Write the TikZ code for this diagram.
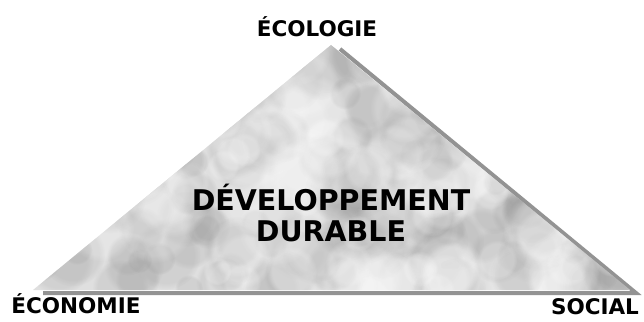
\documentclass[tikz,border=0pt]{standalone}
\usepackage{fontspec}
\setmainfont{DejaVu Sans}
\usetikzlibrary{fadings}

\begin{document}
\begin{tikzpicture}[x=1pt,y=-1pt]
\tikzset{etiquette/.style={font=\fontsize{21.5}{24}\selectfont\bfseries, anchor=base, inner sep=0pt}}
\tikzset{titre/.style={font=\fontsize{28.5}{32}\selectfont\bfseries, anchor=base, inner sep=0pt}}
\tikzset{ombre/.style={draw=gray!85, line width=4pt, line join=miter}}
\tikzset{tache/.style={path fading=circle with fuzzy edge 20 percent, fill opacity=0.2}}
\useasboundingbox (0,0) rectangle (644,321);
\coordinate (S) at (331,45);
\coordinate (G) at (33,290);
\coordinate (D) at (630,290);
\coordinate (OS) at (340,49);
\coordinate (OD) at (636,293);
\coordinate (OG) at (43,293);
% ombre
\draw[ombre] (OS) -- (OD) -- (OG);
% triangle
\fill[gray!25] (S) -- (D) -- (G) -- cycle;
\begin{scope}
\clip (S) -- (D) -- (G) -- cycle;
\pgfmathsetseed{17}
\foreach \i in {1,...,240} {
  \pgfmathsetmacro\px{35+rnd*595}
  \pgfmathsetmacro\py{45+rnd*245}
  \pgfmathsetmacro\pr{12+rnd*24}
  \fill[gray!80, tache] (\px,\py) circle (\pr pt);
}
\foreach \i in {1,...,140} {
  \pgfmathsetmacro\px{35+rnd*595}
  \pgfmathsetmacro\py{45+rnd*245}
  \pgfmathsetmacro\pr{14+rnd*26}
  \fill[white, tache] (\px,\py) circle (\pr pt);
}
\end{scope}
\node[etiquette] (ecologie) at (317,37) {ÉCOLOGIE};
\node[etiquette] (economie) at (76,313) {ÉCONOMIE};
\node[etiquette] (social) at (595,314) {SOCIAL};
\node[titre] (developpement) at (331,210) {DÉVELOPPEMENT};
\node[titre] (durable) at (331,241) {DURABLE};
\end{tikzpicture}
\end{document}
